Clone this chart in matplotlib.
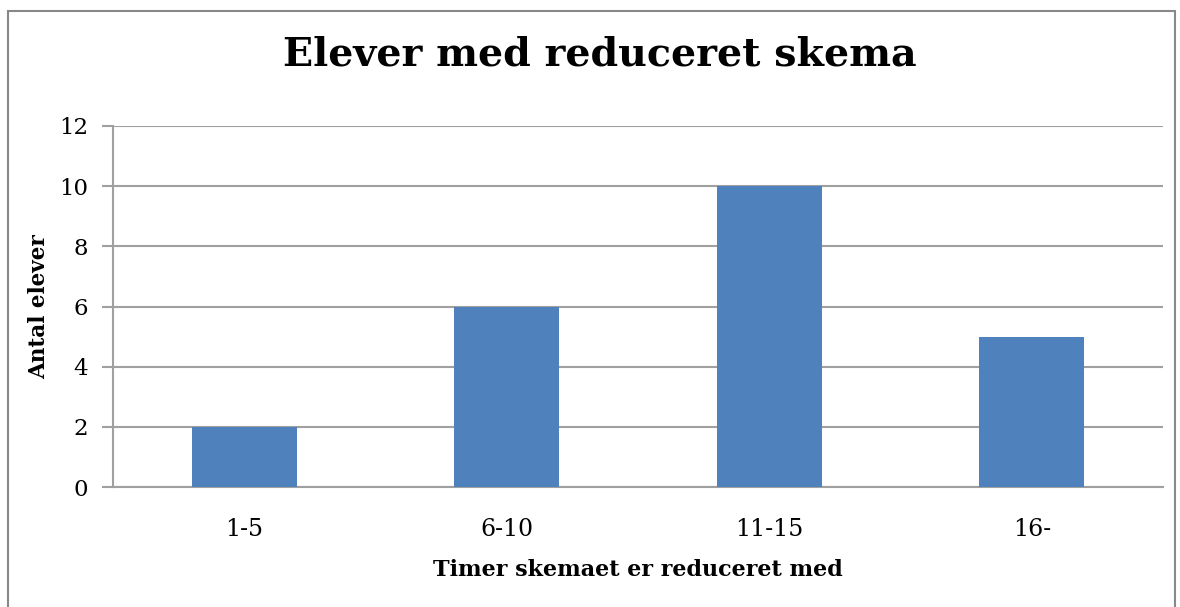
import matplotlib
matplotlib.use("Agg")
import matplotlib.pyplot as plt
from matplotlib.patches import Rectangle

categories = ["1-5", "6-10", "11-15", "16-"]
values = [2, 6, 10, 5]
yticks = [0, 2, 4, 6, 8, 10, 12]

plt.rcParams['font.family'] = ['DejaVu Serif']

fig = plt.figure(figsize=(11.8, 6.07), dpi=100)
ax = fig.add_axes([113/1180, 1-487/607, (1163-113)/1180, (487-126)/607])

grid_c = "#a0a0a0"
x = range(len(categories))
ax.bar(x, values, width=0.4, color="#4f81bd", zorder=3)
ax.set_xlim(-0.5, len(categories)-0.5)
ax.set_ylim(0, 12)
ax.set_yticks(yticks)
ax.set_yticklabels([str(t) for t in yticks], fontsize=16.5)
ax.set_xticks(list(x))
ax.set_xticklabels(categories, fontsize=17)
ax.yaxis.grid(True, color=grid_c, linewidth=1.5, zorder=0)
for s in ["top", "right"]:
    ax.spines[s].set_visible(False)
for s in ["left", "bottom"]:
    ax.spines[s].set_color(grid_c)
    ax.spines[s].set_linewidth(1.5)
ax.tick_params(axis="y", length=8, width=1.5, color=grid_c, pad=10)
ax.tick_params(axis="x", length=0, pad=22)
ax.set_xlabel("Timer skemaet er reduceret med", fontsize=16, fontweight="bold", labelpad=13)
ax.set_ylabel("Antal elever", fontsize=15.5, fontweight="bold", labelpad=6)

fig.text(0.508, 1-55/607, "Elever med reduceret skema", ha="center", va="center",
         fontsize=28.5, fontweight="bold")

fig.patches.append(Rectangle((8/1180, -0.05), (1175-8)/1180, 1-11/607+0.05,
                             transform=fig.transFigure, fill=False,
                             edgecolor="#888888", linewidth=1.5))

fig.savefig("out.png", dpi=100)
